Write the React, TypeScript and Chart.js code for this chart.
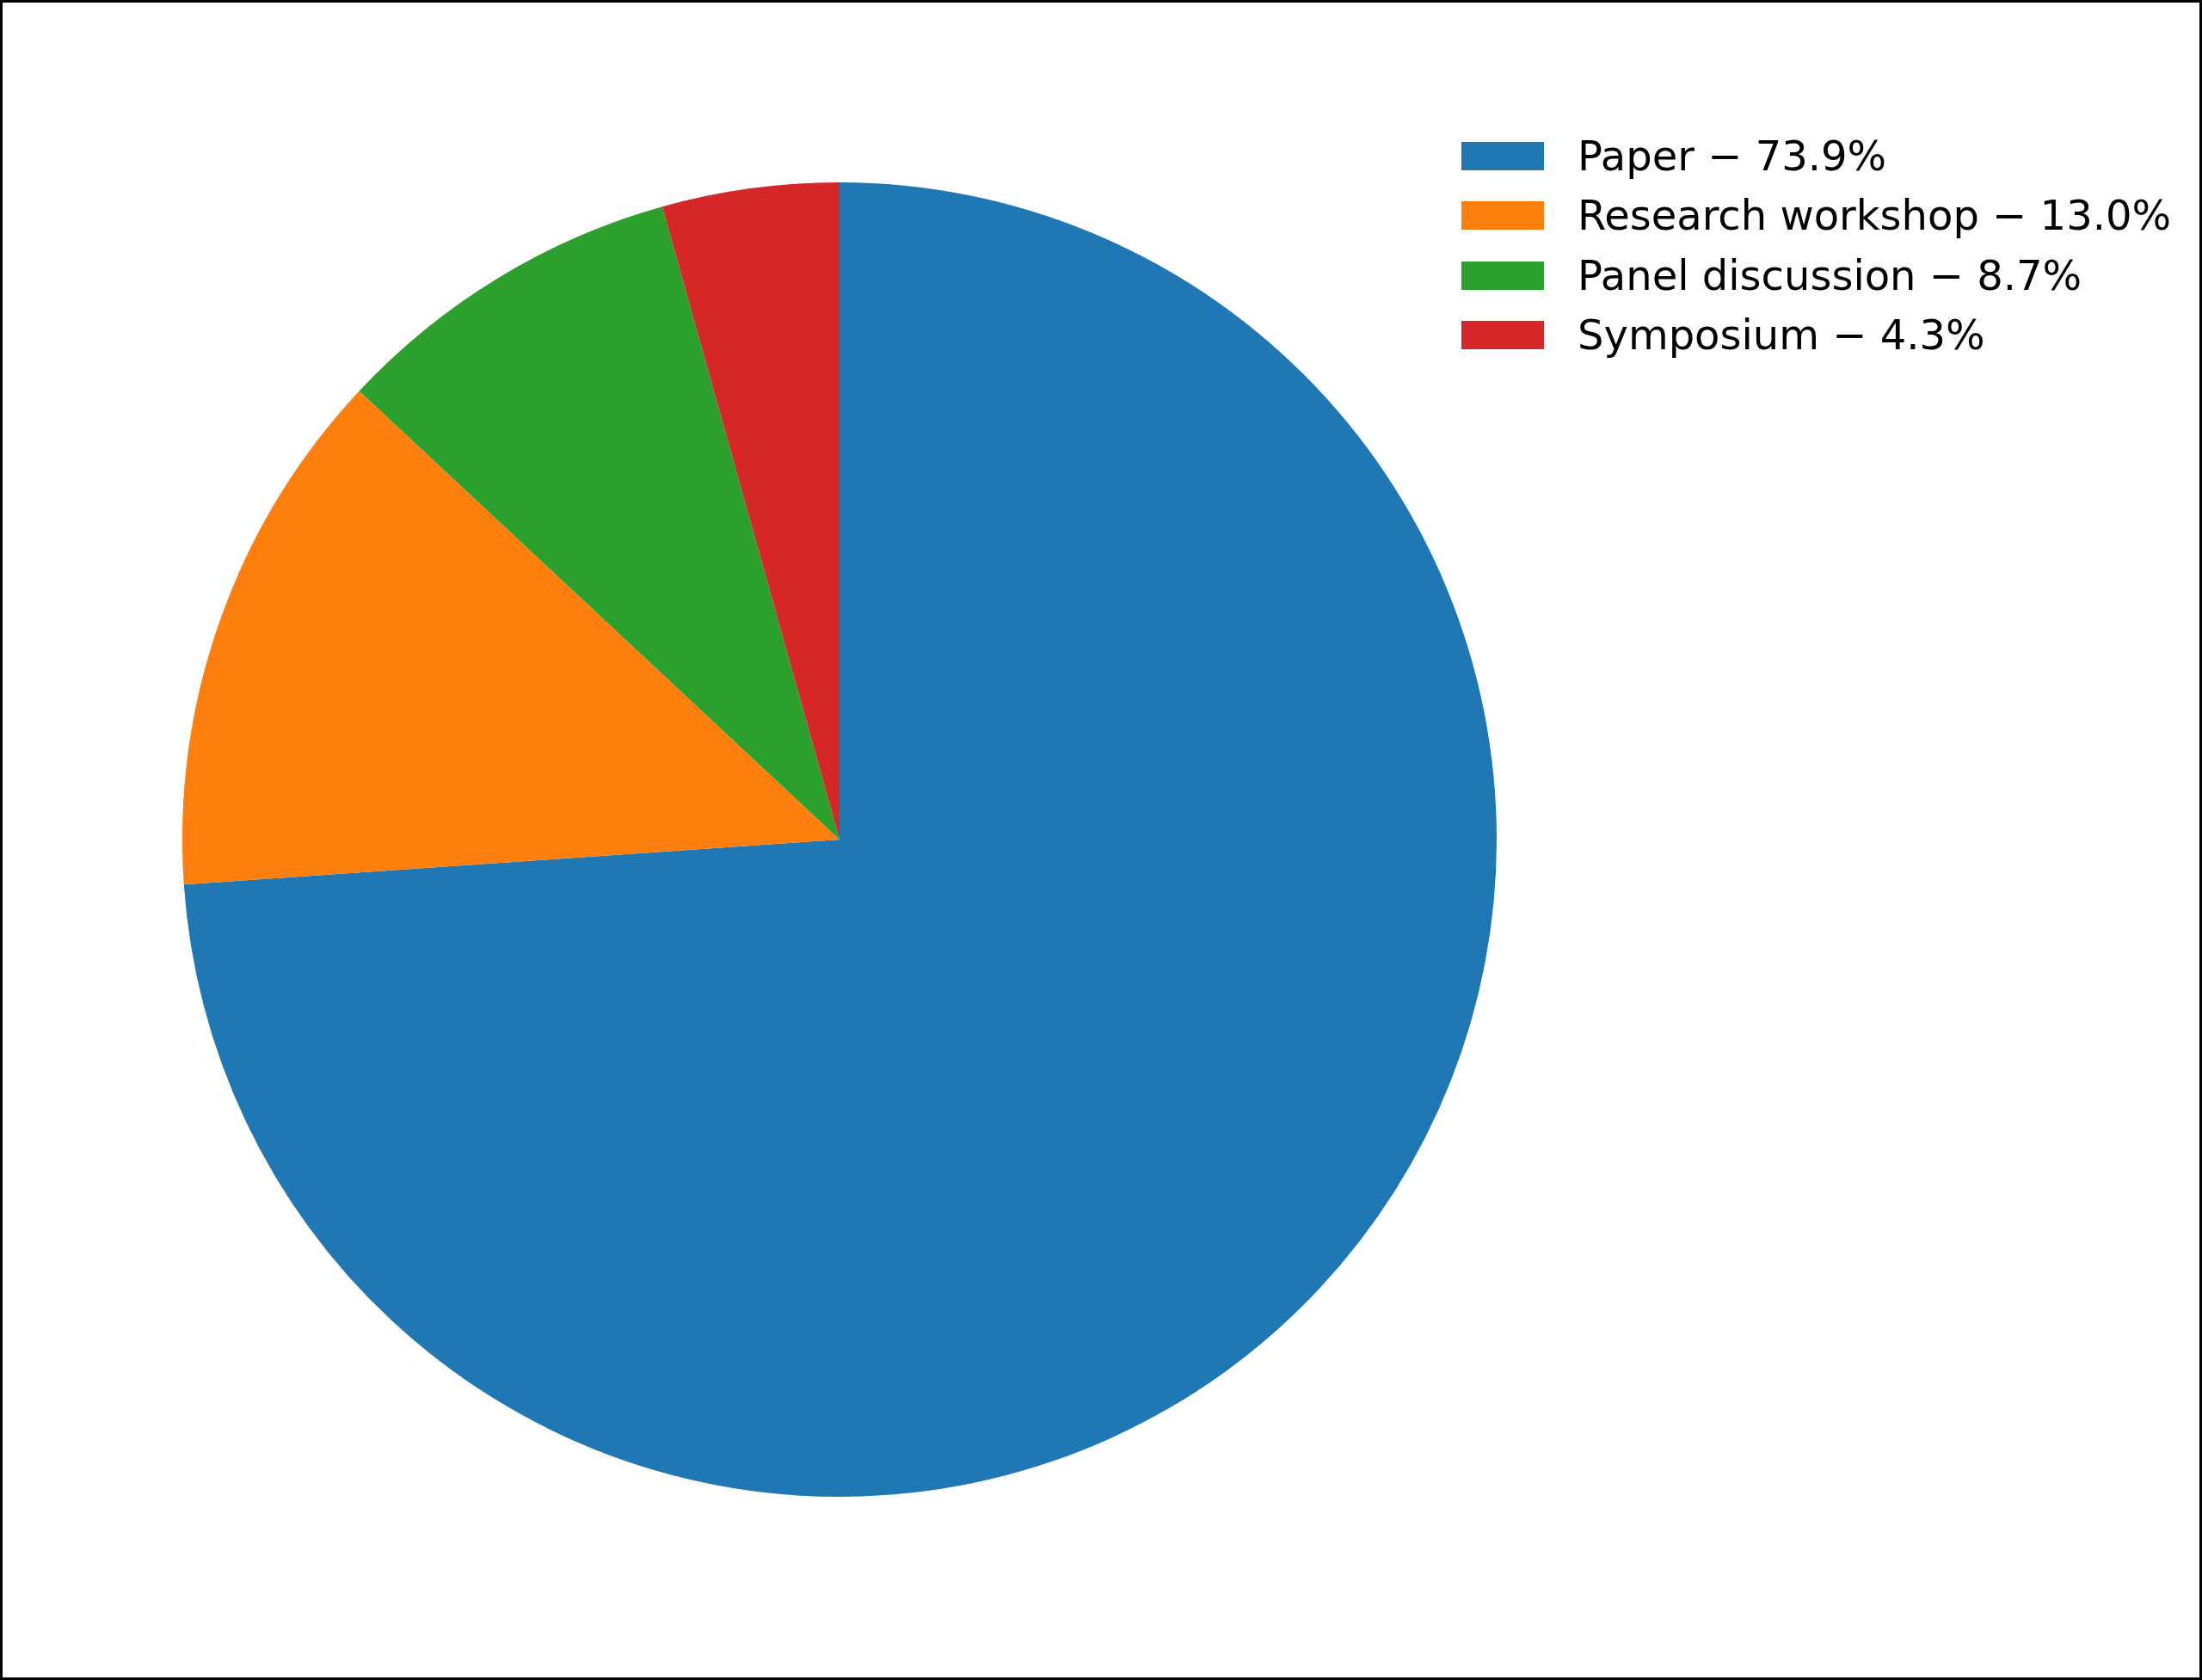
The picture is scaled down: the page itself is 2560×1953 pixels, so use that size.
import React, { useEffect, useRef } from "react";
import { Chart, registerables } from "chart.js";

Chart.register(...registerables);

const categories = ["Paper", "Research workshop", "Panel discussion", "Symposium"];
const counts = [17, 3, 2, 1];
const percentLabels = ["73.9%", "13.0%", "8.7%", "4.3%"];
const colors = ["#1f77b4", "#ff7f0e", "#2ca02c", "#d62728"];

const W = 2560;
const H = 1953;
const B = 3;

const legendPlugin = {
  id: "customLegend",
  afterDraw(chart: any) {
    const ctx = chart.ctx;
    const boxX = 1696;
    const boxW = 96;
    const boxH = 33;
    const firstTop = 162;
    const step = 69.4;
    const textX = 1831;
    ctx.save();
    ctx.font = "48px 'DejaVu Sans'";
    ctx.textBaseline = "alphabetic";
    ctx.textAlign = "left";
    const labels = chart.data.labels as string[];
    labels.forEach((lab: string, i: number) => {
      const top = Math.round(firstTop + i * step);
      ctx.fillStyle = colors[i];
      ctx.fillRect(boxX, top, boxW, boxH);
      ctx.fillStyle = "#000000";
      ctx.fillText(`${lab} \u2212 ${percentLabels[i]}`, textX, top + boxH);
    });
    ctx.restore();
  },
};

export default function App() {
  const ref = useRef<HTMLCanvasElement | null>(null);
  useEffect(() => {
    document.body.style.margin = "0";
    if (!ref.current) return;
    const chart = new Chart(ref.current, {
      type: "pie",
      data: {
        labels: categories,
        datasets: [
          {
            data: counts,
            backgroundColor: colors,
            borderWidth: 0,
          },
        ],
      },
      options: {
        responsive: false,
        animation: false,
        devicePixelRatio: 1,
        layout: { padding: { left: 209, top: 209, right: 817, bottom: 210 } },
        plugins: {
          legend: { display: false },
          tooltip: { enabled: false },
        },
        events: [],
      },
      plugins: [legendPlugin],
    });
    return () => chart.destroy();
  }, []);
  return (
    <div
      style={{
        position: "fixed",
        left: 0,
        top: 0,
        width: W,
        height: H,
        border: `${B}px solid #000`,
        boxSizing: "border-box",
        background: "#fff",
      }}
    >
      <canvas ref={ref} width={W - 2 * B} height={H - 2 * B} style={{ display: "block" }} />
    </div>
  );
}
